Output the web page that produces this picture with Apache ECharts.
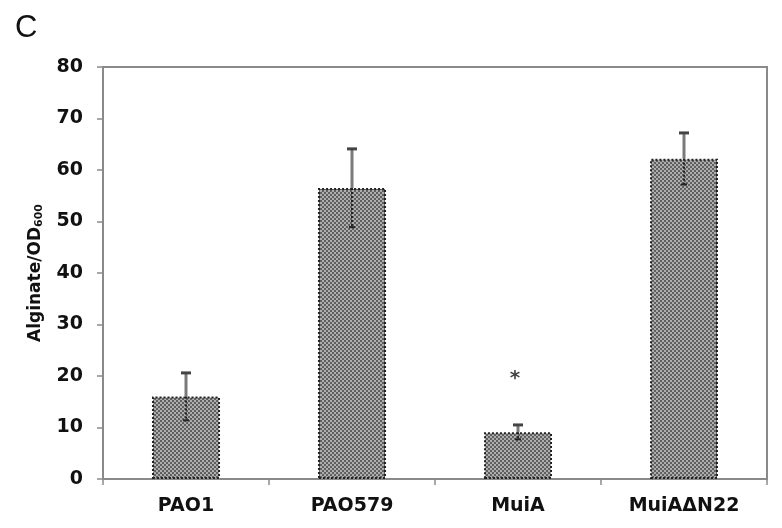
<!DOCTYPE html>
<html><head><meta charset="utf-8">
<script src="https://cdn.jsdelivr.net/npm/echarts@6/dist/echarts.min.js"></script>
<style>html,body{margin:0;padding:0;background:#fff}#c{width:782px;height:528px}</style>
</head><body><div id="c"></div>
<script>
const categories = ['PAO1', 'PAO579', 'MuiA', 'MuiAΔN22'];
const means = [16.0, 56.5, 9.1, 62.2];
const errors = [4.6, 7.6, 1.4, 5.0];
const starValues = [null, null, 19.8, null];
const yTicks = [0, 10, 20, 30, 40, 50, 60, 70, 80];

// checkerboard pattern fill
const pc = document.createElement('canvas');
pc.width = 4; pc.height = 4;
const px = pc.getContext('2d');
px.fillStyle = '#adadad'; px.fillRect(0, 0, 4, 4);
px.fillStyle = '#606060';
px.fillRect(0, 0, 2, 2); px.fillRect(2, 2, 2, 2);

const FONT = 'DejaVu Sans';
const chart = echarts.init(document.getElementById('c'));
chart.setOption({
  animation: false,
  backgroundColor: '#fff',
  title: { text: 'C', left: 10, top: 8, textStyle: { fontFamily: 'Liberation Sans', fontWeight: 'normal', fontSize: 31, color: '#111' } },
  grid: { left: 103, right: 15, top: 67, bottom: 49, show: true, borderColor: '#8a8a8a', borderWidth: 2 },
  xAxis: {
    type: 'category', data: categories,
    axisLine: { lineStyle: { color: '#8a8a8a', width: 2 } },
    axisTick: { show: true, alignWithLabel: false, length: 6, lineStyle: { color: '#8a8a8a', width: 1.5 } },
    axisLabel: { fontFamily: FONT, fontWeight: 'bold', fontSize: 19, color: '#111', margin: 18 }
  },
  yAxis: {
    type: 'value', min: yTicks[0], max: yTicks[yTicks.length - 1], interval: yTicks[1] - yTicks[0],
    name: '{m|Alginate/OD}{s|600}', nameLocation: 'middle', nameGap: 58, nameRotate: 90,
    nameTextStyle: { rich: {
      m: { fontFamily: FONT, fontWeight: 'bold', fontSize: 17, color: '#111' },
      s: { fontFamily: FONT, fontWeight: 'bold', fontSize: 11, color: '#111', verticalAlign: 'bottom', padding: [7, 0, 0, 0] }
    } },
    axisLine: { show: true, lineStyle: { color: '#8a8a8a', width: 2 } },
    axisTick: { show: true, length: 6, lineStyle: { color: '#8a8a8a', width: 1.5 } },
    splitLine: { show: false },
    axisLabel: { fontFamily: FONT, fontWeight: 'bold', fontSize: 19, color: '#111', margin: 20 }
  },
  series: [
    {
      type: 'bar', data: means, barWidth: '41%',
      itemStyle: { color: { image: pc, repeat: 'repeat' }, borderColor: '#222', borderWidth: 2, borderType: 'dotted' }
    },
    {
      type: 'custom', z: 5,
      data: means.map((m, i) => [i, m, errors[i]]),
      renderItem: function (params, api) {
        const x = api.coord([api.value(0), 0])[0];
        const top = api.coord([api.value(0), api.value(1) + api.value(2)])[1];
        const mid = api.coord([api.value(0), api.value(1)])[1];
        const low = api.coord([api.value(0), api.value(1) - api.value(2)])[1];
        return { type: 'group', children: [
          { type: 'line', shape: { x1: x, y1: top, x2: x, y2: mid }, style: { stroke: '#7a7a7a', lineWidth: 3 } },
          { type: 'line', shape: { x1: x, y1: mid, x2: x, y2: low }, style: { stroke: '#222', lineWidth: 2, lineDash: [2, 2] } },
          { type: 'line', shape: { x1: x - 5, y1: top, x2: x + 5, y2: top }, style: { stroke: '#444', lineWidth: 3 } },
          { type: 'line', shape: { x1: x - 3, y1: low, x2: x + 3, y2: low }, style: { stroke: '#222', lineWidth: 2 } }
        ] };
      }
    },
    {
      type: 'scatter', symbolSize: 0, z: 6,
      data: starValues.map((v, i) => v == null ? null : [i, v]).filter(d => d),
      label: { show: true, position: 'inside', formatter: '*', offset: [-3, 2], fontFamily: FONT, fontWeight: 'bold', fontSize: 20, color: '#111' }
    }
  ]
});
</script></body></html>
